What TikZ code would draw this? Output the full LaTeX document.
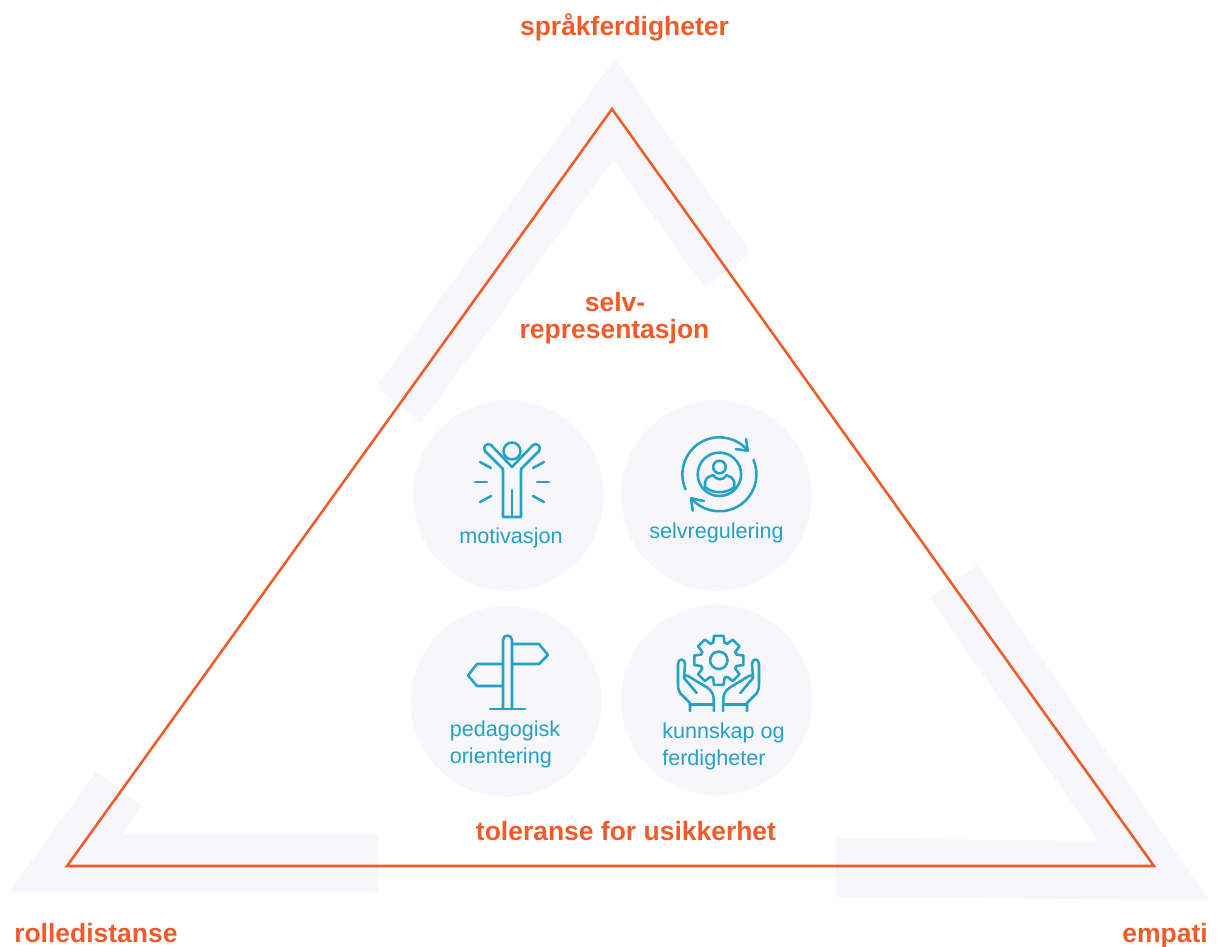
\documentclass[tikz,border=0pt]{standalone}
\usepackage{fontspec}
\setmainfont{Liberation Sans}
\definecolor{org}{HTML}{F15A29}
\definecolor{pale}{HTML}{F6F6FB}
\definecolor{teal2}{HTML}{23A2C4}
\tikzset{
  x=0.75pt,y=-0.75pt,
  band/.style={fill=pale,draw=none},
  disc/.style={circle,fill=pale,draw=none,minimum size=143.25pt,inner sep=0pt},
  head/.style={text=org,font=\fontsize{19.85pt}{20.25pt}\selectfont\bfseries,inner sep=0pt,align=center},
  lab/.style={text=teal2,font=\fontsize{16.2pt}{20.4pt}\selectfont,inner sep=0pt,align=left},
  ico/.style={draw=teal2,line width=1.9pt,line cap=round,line join=round,fill=none},
  tri/.style={draw=org,line width=1.9pt,line join=miter,fill=none}
}
\begin{document}
\begin{tikzpicture}
\useasboundingbox (0,0) rectangle (1217,946);
% pale bands
\fill[band] (376,387) -- (615,59) -- (751,253) -- (705,288) -- (613,160) -- (421,423) -- cycle;
\fill[band] (96,772) -- (142,806) -- (123,834) -- (378,834) -- (378,893) -- (8,893) -- cycle;
\fill[band] (977,565) -- (1209,900) -- (836,897) -- (836,838) -- (1098,841) -- (930,598) -- cycle;
% discs
\node[disc] (d1) at (508.5,495.5) {};
\node[disc] (d2) at (716.5,495.5) {};
\node[disc] (d3) at (506,701.5) {};
\node[disc] (d4) at (716.5,700) {};
% triangle
\coordinate (ta) at (612,109);
\coordinate (tb) at (67,866);
\coordinate (tc) at (1154,866);
\draw[tri] (ta) -- (tb) -- (tc) -- cycle;
% headings
\node[head,anchor=base] (h1) at (624.5,35) {språkferdigheter};
\node[head,anchor=base] (h2) at (615,311) {selv-};
\node[head,anchor=base] (h2b) at (614.5,338) {representasjon};
\node[head,anchor=base] (h3) at (626,840) {toleranse for usikkerhet};
\node[head,anchor=base west] (h4) at (14,942) {rolledistanse};
\node[head,anchor=base east] (h5) at (1208,942) {empati};
% labels
\node[lab,anchor=base] (l1) at (511,543.5) {motivasjon};
\node[lab,anchor=base] (l2) at (716.5,538.5) {selvregulering};
\node[lab,anchor=base west] (l3) at (449.5,736) {pedagogisk};
\node[lab,anchor=base west] (l3b) at (449.5,763) {orientering};
\node[lab,anchor=base west] (l4) at (662,738) {kunnskap og};
\node[lab,anchor=base west] (l4b) at (662,765) {ferdigheter};
% icon motivasjon
\draw[ico] (512,451) circle (8.5);
\draw[ico] (503,517) -- (503,469) -- (485,451) .. controls (482,447) and (487,442) .. (491,445) -- (512,467) -- (533,445) .. controls (537,442) and (542,447) .. (539,451) -- (521,469) -- (521,517) -- cycle;
\draw[ico] (512,490) -- (512,517);
\draw[ico] (480,462) -- (491,468);
\draw[ico] (544,462) -- (533,468);
\draw[ico] (475,482) -- (487,482);
\draw[ico] (537,482) -- (549,482);
\draw[ico] (480,502) -- (491,496);
\draw[ico] (544,502) -- (533,496);
% icon selvregulering (angles run clockwise on the page)
\coordinate (rc) at (719.4,474.3);
\draw[ico] (rc) circle (21.7);
\draw[ico] (719.5,467) circle (6.3);
\draw[ico] (705,487) -- (705,482) .. controls (706,478) and (709,476) .. (713.3,475.3) .. controls (716,480) and (723,481) .. (726.7,475.3) .. controls (730,476) and (733,478) .. (734.3,482) -- (734.3,487) .. controls (726,494) and (713,494) .. (705,487) -- cycle;
\draw[ico] ([shift={(rc)}]156:37) arc[start angle=156,end angle=320,radius=37];
\draw[ico] (746,439) -- (747.7,450.7) -- (735.7,449);
\draw[ico] ([shift={(rc)}]337:37) arc[start angle=337,end angle=500,radius=37];
\draw[ico] (704,501) -- (691,498.3) -- (692.7,510.7);
% icon signpost
\draw[ico] (503,709) -- (503,640) arc[start angle=180,end angle=360,radius=4.5] -- (512,709);
\draw[ico] (490,709) -- (525,709);
\draw[ico] (512,644) -- (539,644) -- (548,655) -- (539,664) -- (512,664);
\draw[ico] (503,664) -- (477,664) -- (468,675.5) -- (477,686) -- (503,686);
% icon gear
\coordinate (gc) at (718.8,660.3);
\draw[ico] (gc) circle (8.7);
\foreach \a in {0,45,...,315}{
  \draw[ico] ([shift={(gc)}]\a-18:18.5) -- ([shift={(gc)}]\a-11:25) -- ([shift={(gc)}]\a+11:25) -- ([shift={(gc)}]\a+18:18.5) -- ([shift={(gc)}]\a+27:18.5);
}
% left hand
\draw[ico] (690,711) -- (690,703) -- (680,693) .. controls (678,690) and (678,687) .. (678,684) -- (678,664) .. controls (678,658) and (685,658) .. (685,664) -- (684,678) -- (696.7,693);
\draw[ico] (684,678) .. controls (684,675) and (686,675) .. (688,676) -- (703,685) .. controls (709,688) and (713,692) .. (713.5,697) -- (714,711);
\draw[ico] (690,704.7) -- (713.5,704.7);
% right hand
\draw[ico] (747,711) -- (747,703) -- (757,693) .. controls (759,690) and (759,687) .. (759,684) -- (759,664) .. controls (759,658) and (752,658) .. (752,664) -- (753,678) -- (740.3,693);
\draw[ico] (753,678) .. controls (753,675) and (751,675) .. (749,676) -- (734,685) .. controls (728,688) and (724,692) .. (723.5,697) -- (723,711);
\draw[ico] (747,704.7) -- (723.5,704.7);
\end{tikzpicture}
\end{document}
